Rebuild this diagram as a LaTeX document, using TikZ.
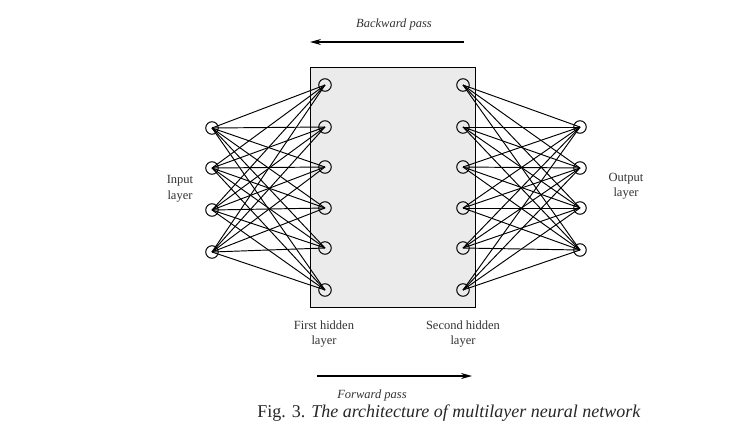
\documentclass[tikz,border=0pt]{standalone}
\usepackage{fontspec}
\setmainfont{Liberation Serif}
\usetikzlibrary{arrows.meta}
\begin{document}
\begin{tikzpicture}[x=1pt,y=-1pt,
  neuron/.style={circle,draw,line width=1pt,minimum size=12.5pt,inner sep=0pt},
  conn/.style={line width=0.95pt},
  lbl/.style={font=\fontsize{12.5}{15.5}\selectfont,align=center,text=black!80},
  passlbl/.style={font=\fontsize{12.5}{15}\selectfont\itshape,text=black!80},
  passarrow/.style={line width=1.3pt,-{Stealth[length=11pt,width=6pt]}}]
\useasboundingbox (0,0) rectangle (756,432);
\node[draw,line width=1.2pt,fill=black!8,minimum width=165pt,minimum height=240pt,inner sep=0pt,anchor=north west] (box) at (310,67) {};
% input layer
\foreach \i/\y in {1/128,2/168,3/210,4/252} \coordinate (in\i) at (212,\y);
\foreach \i/\y in {1/85,2/127,3/167,4/208,5/248,6/290} {
  \coordinate (ha\i) at (325,\y);
  \coordinate (hb\i) at (463,\y);
}
\foreach \i/\y in {1/127,2/168,3/208,4/250} \coordinate (out\i) at (580,\y);
\foreach \i in {1,...,4} \foreach \j in {1,...,6} \draw[conn] (in\i) -- (ha\j);
\foreach \i in {1,...,6} \foreach \j in {1,...,4} \draw[conn] (hb\i) -- (out\j);
\foreach \i in {1,...,4} {\node[neuron] (nin\i) at (in\i) {}; \node[neuron] (nout\i) at (out\i) {};}
\foreach \i in {1,...,6} {\node[neuron] (nha\i) at (ha\i) {}; \node[neuron] (nhb\i) at (hb\i) {};}
% labels
\node[lbl] (inl) at (180,189) {Input\\layer};
\node[lbl] (outl) at (626,186) {Output\\layer};
\node[lbl] (h1l) at (324,334) {First hidden\\layer};
\node[lbl] (h2l) at (463,334) {Second hidden\\layer};
% passes
\node[passlbl] (bp) at (394,24) {Backward pass};
\coordinate (bs) at (464,42);
\coordinate (be) at (310,42);
\draw[passarrow] (bs) -- (be);
\coordinate (fs) at (317,376);
\coordinate (fe) at (472,376);
\draw[passarrow] (fs) -- (fe);
\node[passlbl] (fp) at (372,395) {Forward pass};
\node[font=\fontsize{18}{21}\selectfont,text=black!85] (cap) at (449,413) {Fig. 3. \textit{The architecture of multilayer neural network}};
\end{tikzpicture}
\end{document}
